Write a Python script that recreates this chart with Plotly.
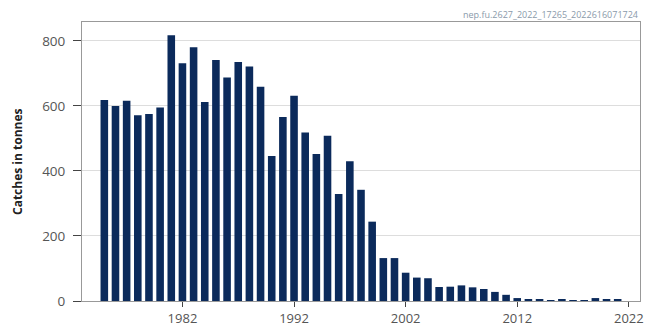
import plotly.graph_objects as go

years = list(range(1975, 2022))
catches = [618, 600, 616, 571, 575, 595, 817, 731, 780, 612,
           741, 687, 735, 721, 659, 446, 566, 631, 518, 452,
           508, 329, 430, 342, 244, 132, 132, 87, 72, 70,
           43, 44, 48, 42, 37, 28, 19, 9, 5, 4,
           1, 5, 3, 1, 9, 5, 5]
tick_years = [1982, 1992, 2002, 2012, 2022]
y_ticks = [0, 200, 400, 600, 800]
code_label = "nep.fu.2627_2022_17265_2022616071724"
y_title = "Catches in tonnes"

fig = go.Figure()
fig.add_trace(go.Bar(x=years, y=catches, width=0.68,
                     marker=dict(color="#0b2a5b", line=dict(width=0))))

fig.update_layout(
    width=646, height=328,
    margin=dict(l=82, r=6, t=22, b=27, autoexpand=False),
    paper_bgcolor="white", plot_bgcolor="white",
    font=dict(family="Open Sans", color="#555555", size=12),
    showlegend=False,
    xaxis=dict(range=[1973.0, 2023.0], tickvals=tick_years,
               ticks="outside", ticklen=5, tickcolor="#444444",
               showgrid=False, showline=True, linecolor="#999999",
               mirror=True, ticklabelstandoff=0, automargin=False,
               tickfont=dict(size=13, color="#555555")),
    yaxis=dict(range=[0, 858], tickvals=y_ticks, showgrid=True,
               gridcolor="#dddddd", showline=True, linecolor="#999999",
               mirror=True, zeroline=False, ticks="outside", ticklen=8,
               tickcolor="#444444", ticklabelstandoff=5, automargin=False,
               tickfont=dict(size=13.5, color="#555555")),
    annotations=[
        dict(text=code_label, xref="paper", yref="paper",
             x=1.0, y=1.0, xanchor="right", yanchor="middle",
             yshift=8, showarrow=False,
             font=dict(size=9, color="#8a9aaa")),
        dict(text="<b>" + y_title + "</b>", xref="paper", yref="paper",
             x=0, y=0.5, xanchor="center", yanchor="middle",
             xshift=-64.5, textangle=-90, showarrow=False,
             font=dict(size=12, color="#222222")),
    ],
)

fig.write_html("out.html",
               config={"displayModeBar": False},
               post_script="document.body.style.margin='0';"
                           "document.body.style.overflow='hidden';")
